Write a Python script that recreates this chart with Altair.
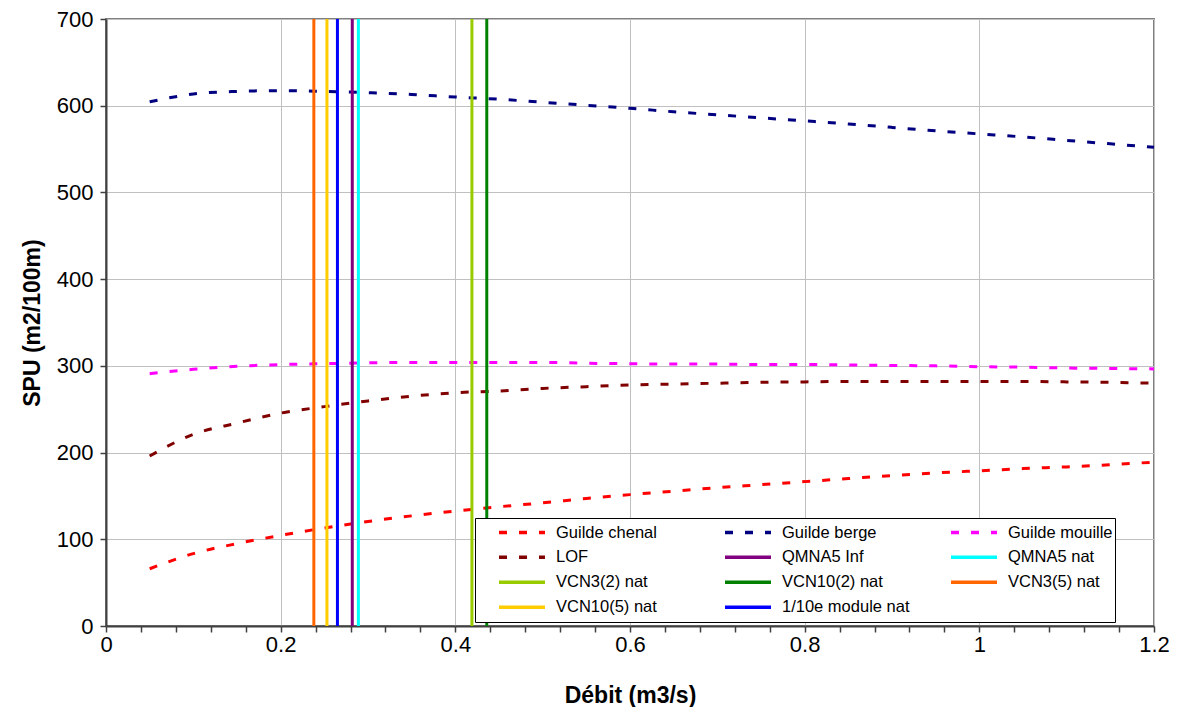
import altair as alt
import pandas as pd

# ---- data ----
debit = [0.05, 0.10, 0.15, 0.20, 0.25, 0.30, 0.35, 0.40, 0.45, 0.50, 0.55, 0.60,
         0.65, 0.70, 0.75, 0.80, 0.85, 0.90, 0.95, 1.00, 1.05, 1.10, 1.15, 1.20]
chenal = [66, 83.5, 95, 104.5, 113, 120.5, 127, 132.5, 137.5, 142, 147, 151.5,
          155.5, 159.5, 163, 166.5, 170, 173.5, 176.5, 179, 181.5, 183.5, 186, 189]
berge = [604.5, 613.5, 616.5, 617.4, 616.5, 615, 613, 610, 607.5, 604, 600.5, 597,
         593, 589.5, 586, 582.5, 579, 575, 571, 567.5, 564, 560, 556, 552]
mouille = [291, 296, 299.5, 301.5, 302.5, 303.5, 304, 304, 304, 304, 303, 302.5,
           302, 302, 301.5, 301.5, 301, 300.5, 300, 299, 298.5, 297.5, 297, 296.5]
lof = [196, 221, 234, 245.5, 253, 259.5, 265, 269, 271, 274, 276, 278,
       279, 280, 281, 281.5, 282, 282, 282, 282, 282, 281.5, 281, 280]

serie_noms = ["Guilde chenal", "Guilde berge", "Guilde mouille", "LOF",
              "QMNA5 Inf", "QMNA5 nat", "VCN3(2) nat", "VCN10(2) nat",
              "VCN3(5) nat", "VCN10(5) nat", "1/10e module nat"]
serie_couleurs = ["#FF0000", "#000080", "#FF00FF", "#800000",
                  "#800080", "#00FFFF", "#99CC00", "#008000",
                  "#FF6600", "#FFCC00", "#0000FF"]
serie_tirets = [[8, 12], [8, 12], [8, 12], [8, 12],
                [1, 0], [1, 0], [1, 0], [1, 0], [1, 0], [1, 0], [1, 0]]

ref_noms = ["QMNA5 Inf", "QMNA5 nat", "VCN3(2) nat", "VCN10(2) nat",
            "VCN3(5) nat", "VCN10(5) nat", "1/10e module nat"]
ref_debits = [0.282, 0.289, 0.419, 0.436, 0.238, 0.253, 0.265]

x_ticks = [0, 0.04, 0.08, 0.12, 0.16, 0.2, 0.24, 0.28, 0.32, 0.36, 0.4, 0.44,
           0.48, 0.52, 0.56, 0.6, 0.64, 0.68, 0.72, 0.76, 0.8, 0.84, 0.88, 0.92,
           0.96, 1.0, 1.04, 1.08, 1.12, 1.16, 1.2]
y_ticks = [0, 100, 200, 300, 400, 500, 600, 700]

# ---- tables ----
courbes = pd.concat([
    pd.DataFrame({"debit": debit, "spu": vals, "serie": nom})
    for nom, vals in [("Guilde chenal", chenal), ("Guilde berge", berge),
                      ("Guilde mouille", mouille), ("LOF", lof)]
])
refs = pd.DataFrame({"debit": ref_debits, "serie": ref_noms})

major = "abs(datum.value*5 - round(datum.value*5)) < 0.001"

x_scale = alt.Scale(domain=[0, 1.2], nice=False, zero=False)
y_scale = alt.Scale(domain=[0, 700], nice=False)

color_enc = alt.Color(
    "serie:N",
    scale=alt.Scale(domain=serie_noms, range=serie_couleurs),
    legend=alt.Legend(
        title=None, orient="none", legendX=369, legendY=499,
        direction="horizontal", columns=3, gridAlign="all",
        columnPadding=19, rowPadding=0,
        symbolType="stroke", symbolSize=2116, symbolStrokeWidth=3.5,
        symbolOffset=20, labelOffset=9, clipHeight=24.3,
        labelFont="Liberation Sans", labelFontSize=16.5, labelColor="#000000",
        labelLimit=300, padding=2,
        strokeColor="#000000", fillColor="#FFFFFF",
    ),
)
dash_enc = alt.StrokeDash(
    "serie:N",
    scale=alt.Scale(domain=serie_noms, range=serie_tirets),
)

x_axis = alt.Axis(
    values=x_ticks, tickCount=60, title="Débit (m3/s)",
    labelExpr=f"{major} ? format(datum.value, '.1~f') : ''",
    labelOverlap=False, labelFlush=False,
    gridOpacity={"condition": {"test": major, "value": 1}, "value": 0},
    gridColor="#C0C0C0", gridWidth=1,
    tickSize=6, tickColor="#404040", tickWidth=1.5,
    domainColor="#404040", domainWidth=2,
    labelFontSize=22, labelPadding=2, labelColor="#000000",
    titleFontSize=23, titleFontWeight="bold", titlePadding=29, titleColor="#000000",
)
y_axis = alt.Axis(
    values=y_ticks, tickCount=20, title="SPU (m2/100m)",
    gridColor="#C0C0C0", gridWidth=1,
    tickSize=6, tickColor="#404040", tickWidth=1.5,
    domainColor="#404040", domainWidth=2,
    labelFontSize=22, labelPadding=7, labelColor="#000000",
    titleFontSize=23, titleFontWeight="bold", titlePadding=12, titleColor="#000000",
)

lignes = alt.Chart(courbes).mark_line(strokeWidth=3, interpolate="monotone").encode(
    x=alt.X("debit:Q", scale=x_scale, axis=x_axis),
    y=alt.Y("spu:Q", scale=y_scale, axis=y_axis),
    color=color_enc,
    strokeDash=dash_enc,
    detail="serie:N",
)

verticales = alt.Chart(refs).mark_rule(strokeWidth=3).encode(
    x=alt.X("debit:Q", scale=x_scale),
    color=color_enc,
    strokeDash=dash_enc,
)

chart = alt.layer(lignes, verticales).properties(
    width=1048, height=607,
    autosize=alt.AutoSizeParams(type="none"),
    padding={"left": 98, "top": 11, "right": 17, "bottom": 81},
).configure(
    font="Liberation Sans",
    background="#FFFFFF",
).configure_view(
    stroke="#808080", strokeWidth=2,
)

chart.save("out.html", embed_options={"renderer": "svg", "actions": False})
